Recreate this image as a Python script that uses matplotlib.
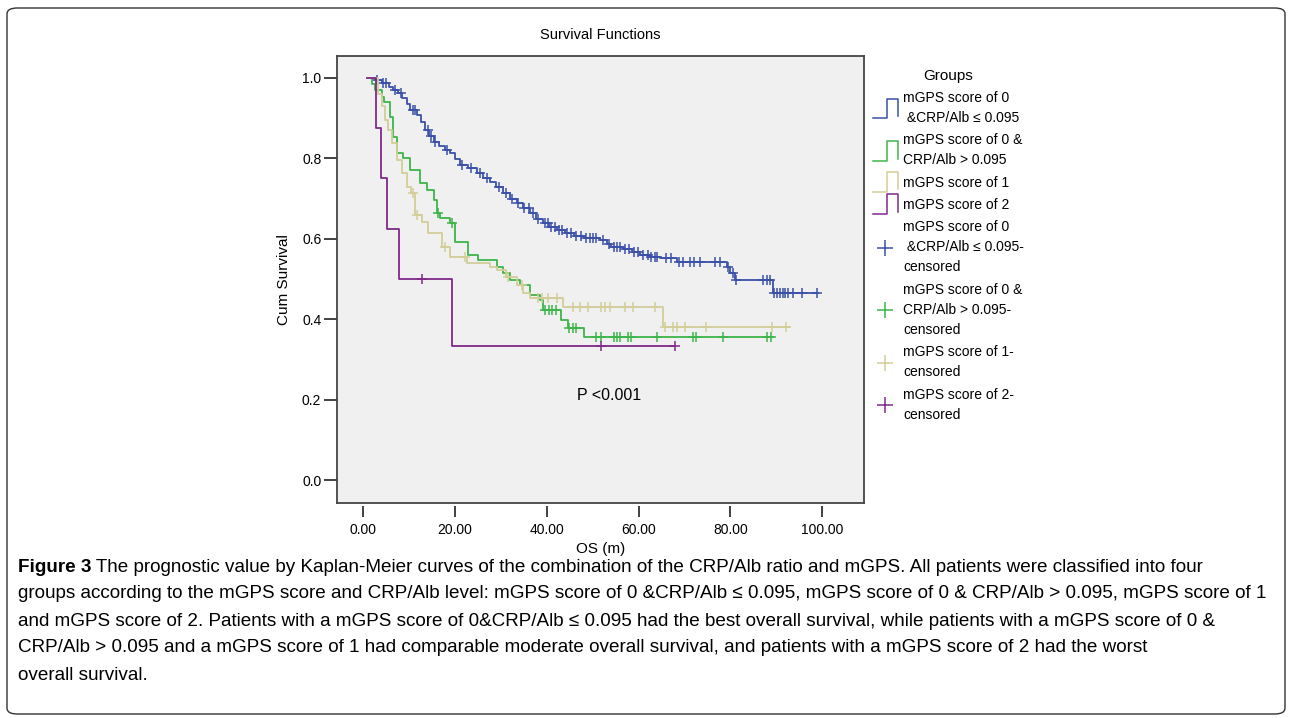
import numpy as np
import matplotlib
matplotlib.use('Agg')
import matplotlib.pyplot as plt
from matplotlib.lines import Line2D
from matplotlib.legend_handler import HandlerBase
from matplotlib.patches import FancyBboxPatch
from matplotlib import font_manager

plt.rcParams['font.family'] = ['Liberation Sans', 'DejaVu Sans']

# ---- data (time in months, cum survival) ----
# mGPS 0 & CRP/Alb <= 0.095
blue_t = [0.9, 2.5, 4.0, 5.5, 6.5, 7.5, 8.5, 9.5, 10.2, 11.6, 12.5, 13.4, 14.3, 15.3,
          16.5, 17.8, 18.9, 20.0, 21.1, 22.8, 24.7, 26.0, 27.6, 29.0, 30.5, 32.0, 33.4,
          34.8, 36.3, 37.7, 39.2, 40.5, 42.1, 44.0, 46.0, 48.0, 51.6, 53.0, 54.0, 56.6,
          58.5, 60.3, 62.5, 64.6, 68.3, 79.2, 79.9, 81.0, 89.3, 99.0]
blue_s = [1.0, 0.995, 0.987, 0.978, 0.970, 0.962, 0.950, 0.935, 0.920, 0.908, 0.890, 0.871,
          0.855, 0.842, 0.832, 0.822, 0.813, 0.798, 0.784, 0.775, 0.763, 0.752, 0.742, 0.728,
          0.713, 0.700, 0.688, 0.676, 0.663, 0.650, 0.639, 0.630, 0.622, 0.614, 0.608, 0.602,
          0.598, 0.588, 0.580, 0.574, 0.566, 0.560, 0.555, 0.551, 0.543, 0.531, 0.514, 0.4975,
          0.466, 0.466]
blue_cens = [3.0, 4.2, 5.0, 6.8, 8.2, 10.8, 11.3, 14.0, 14.8, 15.6, 18.3, 21.5, 23.5, 25.5,
             27.0, 29.5, 31.0, 32.5, 33.8, 35.0, 36.0, 37.0, 38.0, 39.5, 40.2, 41.0, 41.8,
             42.6, 43.4, 44.3, 45.2, 46.4, 47.4, 48.5, 49.3, 50.0, 50.8, 52.2, 53.5, 54.6,
             55.3, 56.0, 57.0, 57.8, 59.0, 59.8, 61.0, 62.0, 62.8, 63.5, 64.0, 66.0, 67.0,
             68.8, 69.6, 71.2, 72.0, 73.3, 76.6, 77.7, 79.5, 80.5, 81.3, 87.1, 87.9, 88.6,
             89.5, 90.2, 90.8, 91.4, 92.0, 92.6, 93.7, 95.5, 98.8]

# mGPS 0 & CRP/Alb > 0.095
green_t = [0.7, 1.8, 2.5, 4.0, 4.5, 5.8, 6.5, 7.3, 8.7, 10.2, 12.4, 13.8, 15.3, 16.1, 16.7,
           18.9, 20.0, 22.9, 25.1, 29.1, 30.5, 32.0, 34.1, 36.3, 38.5, 39.2, 43.0, 44.5,
           48.0, 89.3]
green_s = [1.0, 0.985, 0.970, 0.953, 0.940, 0.904, 0.854, 0.813, 0.800, 0.771, 0.738, 0.722,
           0.697, 0.663, 0.651, 0.639, 0.593, 0.560, 0.547, 0.531, 0.514, 0.4975, 0.485,
           0.460, 0.448, 0.423, 0.398, 0.377, 0.356, 0.356]
green_cens = [16.3, 19.3, 39.6, 40.4, 41.2, 42.0, 44.9, 45.6, 46.3, 50.8, 51.9, 54.6, 55.2,
              55.9, 57.7, 58.4, 63.9, 71.9, 72.6, 78.4, 87.9, 88.8]

# mGPS 1
tan_t = [0.8, 3.3, 4.0, 4.7, 5.4, 6.2, 7.3, 8.4, 9.5, 10.3, 11.3, 12.7, 14.2, 17.1, 18.9,
         22.5, 27.6, 29.1, 31.2, 33.4, 34.9, 36.3, 43.6, 65.4, 93.0]
tan_s = [1.0, 0.960, 0.930, 0.896, 0.871, 0.838, 0.796, 0.763, 0.730, 0.713, 0.659, 0.643,
         0.614, 0.580, 0.555, 0.539, 0.531, 0.522, 0.506, 0.485, 0.464, 0.452, 0.431, 0.381,
         0.381]
tan_cens = [10.9, 11.6, 17.8, 22.2, 31.6, 34.5, 38.1, 38.9, 40.3, 42.1, 45.8, 47.2, 49.0,
            51.9, 52.7, 53.8, 57.0, 58.8, 63.5, 65.8, 67.5, 68.3, 70.1, 74.6, 89.0, 92.2]

# mGPS 2
purple_t = [0.9, 2.8, 3.9, 5.2, 7.8, 19.3, 67.9]
purple_s = [1.0, 0.875, 0.75, 0.625, 0.5, 0.3333, 0.3333]
purple_cens = [12.7, 51.8, 67.9]

labels = ['mGPS score of 0\n &CRP/Alb \u2264 0.095',
          'mGPS score of 0 &\nCRP/Alb > 0.095',
          'mGPS score of 1',
          'mGPS score of 2']
cens_labels = ['mGPS score of 0\n &CRP/Alb \u2264 0.095-\ncensored',
               'mGPS score of 0 &\nCRP/Alb > 0.095-\ncensored',
               'mGPS score of 1-\ncensored',
               'mGPS score of 2-\ncensored']
colors = ['#3B50A8', '#3DB54A', '#D3CD98', '#80298A']

caption = [
    ('Figure 3', ' The prognostic value by Kaplan-Meier curves of the combination of the CRP/Alb ratio and mGPS. All patients were classified into four'),
    ('', 'groups according to the mGPS score and CRP/Alb level: mGPS score of 0 &CRP/Alb \u2264 0.095, mGPS score of 0 & CRP/Alb > 0.095, mGPS score of 1'),
    ('', 'and mGPS score of 2. Patients with a mGPS score of 0&CRP/Alb \u2264 0.095 had the best overall survival, while patients with a mGPS score of 0 &'),
    ('', 'CRP/Alb > 0.095 and a mGPS score of 1 had comparable moderate overall survival, and patients with a mGPS score of 2 had the worst'),
    ('', 'overall survival.'),
]


class StepKey:
    def __init__(self, color):
        self.color = color


class StepHandler(HandlerBase):
    # little "_|^|" icon that SPSS uses for survival lines
    def create_artists(self, legend, orig_handle, xdescent, ydescent, width, height,
                       fontsize, trans):
        x0 = -xdescent
        x1 = x0 + width
        xm = x0 + 0.55 * width
        yc = -ydescent + height / 2
        yb, yt = yc - 7, yc + 7
        ln = Line2D([x0, xm, xm, x1, x1], [yb, yb, yt, yt, yb + 1.5],
                    color=orig_handle.color, lw=1.1)
        ln.set_transform(trans)
        return [ln]


def level_at(t, s, x):
    idx = np.searchsorted(t, x, side='right') - 1
    return np.asarray(s)[idx]


fig = plt.figure(figsize=(12.92, 7.18), dpi=100)
ax = fig.add_axes([0.2611, 0.299, 0.4076, 0.623])
ax.set_facecolor('#F0F0F0')

curves = [(blue_t, blue_s, blue_cens), (green_t, green_s, green_cens),
          (tan_t, tan_s, tan_cens), (purple_t, purple_s, purple_cens)]
for (t, s, c), col in zip(curves, colors):
    ax.step(t, s, where='post', color=col, lw=1.3)
    ax.plot(c, level_at(t, s, c), ls='none', marker='+', ms=7.5, mew=1.1, color=col)

ax.set_xlim(-5.66, 109.1)
ax.set_ylim(-0.058, 1.0547)
ax.set_yticks([0.0, 0.2, 0.4, 0.6, 0.8, 1.0])
ax.set_yticklabels(['0.0', '0.2', '0.4', '0.6', '0.8', '1.0'])
ax.tick_params(axis='y', length=9.5, width=1.3, pad=2, labelsize=10, color='#333333')
ax.tick_params(axis='x', bottom=False, labelbottom=False)
for sp in ax.spines.values():
    sp.set_color('#444444')
    sp.set_linewidth(1.3)

# x ticks sit a little below the frame, like SPSS draws them
sec = ax.secondary_xaxis(-0.006)
sec.set_xticks([0, 20, 40, 60, 80, 100])
sec.set_xticklabels(['0.00', '20.00', '40.00', '60.00', '80.00', '100.00'])
sec.spines['bottom'].set_visible(False)
sec.tick_params(axis='x', length=8, width=1.3, pad=4, labelsize=10, color='#333333')
sec.set_xlabel('OS (m)', fontsize=11, labelpad=3.5)

ax.set_ylabel('Cum Survival', fontsize=11, labelpad=8)
ax.text(46.6, 0.209, 'P <0.001', va='center', ha='left', fontsize=11.5)
fig.text(0.4648, 0.951, 'Survival Functions', ha='center', va='center', fontsize=10.5)

handles = [StepKey(c) for c in colors] + \
          [Line2D([], [], ls='none', marker='+', ms=11, mew=1.1, color=c) for c in colors]
leg = fig.legend(handles, labels + cens_labels, handler_map={StepKey: StepHandler()},
                 loc='upper left', bbox_to_anchor=(0.668, 0.918), frameon=False,
                 title='Groups', title_fontsize=11, fontsize=10, handlelength=1.8,
                 handletextpad=0.4, labelspacing=0.6, borderpad=0.2)
for txt in leg.get_texts():
    txt.set_linespacing(1.55)

# caption underneath
names = {f.name for f in font_manager.fontManager.ttflist}
cap_family = 'Liberation Sans Narrow' if 'Liberation Sans Narrow' in names else 'Liberation Sans'
line_y = [567, 594, 621, 648, 676]
cap_texts = []
for (bold, rest), yy in zip(caption, line_y):
    b = fig.text(18 / 1292, 1 - yy / 718, bold, fontweight='bold', family=cap_family,
                 fontsize=12, va='center', ha='left')
    r = fig.add_artist(matplotlib.text.Annotation(rest, xy=(1, 0.5), xycoords=b,
                                                  va='center', ha='left',
                                                  family=cap_family, fontsize=12,
                                                  annotation_clip=False))
    cap_texts.append((b, r))

# fit the widest caption line to the width the caption takes in the figure
rend = fig.canvas.get_renderer()
widths = []
for b, r in cap_texts:
    wb = b.get_window_extent(rend).width if b.get_text() else 0
    widths.append(wb + r.get_window_extent(rend).width)
scale = (1275 - 18) / max(widths)
for b, r in cap_texts:
    b.set_fontsize(12 * scale)
    r.set_fontsize(12 * scale)

# rounded frame around the whole figure panel
fig.patches.append(FancyBboxPatch((7 / 1292, 4 / 718), 1278 / 1292, 706 / 718,
                                  boxstyle='round,pad=0,rounding_size=0.008',
                                  transform=fig.transFigure, fill=False,
                                  ec='#333333', lw=1.0))

fig.savefig('out.png', dpi=100)
